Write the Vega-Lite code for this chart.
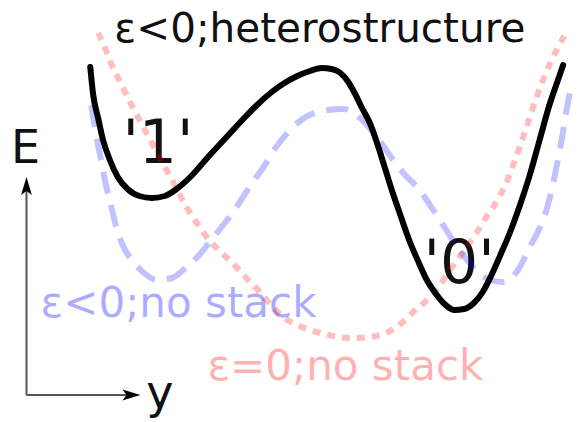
{
  "$schema": "https://vega.github.io/schema/vega-lite/v6.json",
  "width": 582,
  "height": 422,
  "padding": 0,
  "autosize": {"type": "fit", "contains": "padding"},
  "background": "white",
  "config": {"view": {"stroke": null}, "text": {"font": "DejaVu Sans"}},
  "datasets": {
    "curves": [
      {"series": "hetero", "y": 92, "E": 355}, {"series": "hetero", "y": 95, "E": 327}, {"series": "hetero", "y": 100, "E": 304},
      {"series": "hetero", "y": 105, "E": 282}, {"series": "hetero", "y": 112, "E": 262}, {"series": "hetero", "y": 120, "E": 245},
      {"series": "hetero", "y": 130, "E": 233}, {"series": "hetero", "y": 142, "E": 226}, {"series": "hetero", "y": 155, "E": 224},
      {"series": "hetero", "y": 168, "E": 226}, {"series": "hetero", "y": 180, "E": 233}, {"series": "hetero", "y": 195, "E": 246},
      {"series": "hetero", "y": 213, "E": 266}, {"series": "hetero", "y": 230, "E": 284}, {"series": "hetero", "y": 247, "E": 302},
      {"series": "hetero", "y": 262, "E": 317}, {"series": "hetero", "y": 277, "E": 330}, {"series": "hetero", "y": 290, "E": 339},
      {"series": "hetero", "y": 303, "E": 346}, {"series": "hetero", "y": 316, "E": 351}, {"series": "hetero", "y": 328, "E": 354},
      {"series": "hetero", "y": 338, "E": 353}, {"series": "hetero", "y": 347, "E": 349}, {"series": "hetero", "y": 355, "E": 340},
      {"series": "hetero", "y": 362, "E": 328}, {"series": "hetero", "y": 369, "E": 314},
      {"series": "hetero", "y": 377, "E": 299}, {"series": "hetero", "y": 385, "E": 277}, {"series": "hetero", "y": 393, "E": 252},
      {"series": "hetero", "y": 400, "E": 230}, {"series": "hetero", "y": 407, "E": 210}, {"series": "hetero", "y": 417, "E": 182},
      {"series": "hetero", "y": 427, "E": 159}, {"series": "hetero", "y": 435, "E": 142}, {"series": "hetero", "y": 443, "E": 130},
      {"series": "hetero", "y": 452, "E": 119}, {"series": "hetero", "y": 463, "E": 112}, {"series": "hetero", "y": 473, "E": 113},
      {"series": "hetero", "y": 483, "E": 119}, {"series": "hetero", "y": 492, "E": 130}, {"series": "hetero", "y": 500, "E": 145},
      {"series": "hetero", "y": 510, "E": 167}, {"series": "hetero", "y": 520, "E": 190}, {"series": "hetero", "y": 530, "E": 217},
      {"series": "hetero", "y": 540, "E": 247}, {"series": "hetero", "y": 550, "E": 282}, {"series": "hetero", "y": 560, "E": 317},
      {"series": "hetero", "y": 568, "E": 340}, {"series": "hetero", "y": 574, "E": 357},

      {"series": "sym", "y": 93, "E": 317}, {"series": "sym", "y": 98, "E": 287}, {"series": "sym", "y": 103, "E": 262},
      {"series": "sym", "y": 108, "E": 237}, {"series": "sym", "y": 113, "E": 217}, {"series": "sym", "y": 118, "E": 197},
      {"series": "sym", "y": 125, "E": 177}, {"series": "sym", "y": 137, "E": 159}, {"series": "sym", "y": 148, "E": 148},
      {"series": "sym", "y": 160, "E": 142}, {"series": "sym", "y": 175, "E": 144}, {"series": "sym", "y": 190, "E": 155},
      {"series": "sym", "y": 203, "E": 167}, {"series": "sym", "y": 213, "E": 179}, {"series": "sym", "y": 225, "E": 194},
      {"series": "sym", "y": 237, "E": 209}, {"series": "sym", "y": 247, "E": 224}, {"series": "sym", "y": 257, "E": 239},
      {"series": "sym", "y": 268, "E": 254}, {"series": "sym", "y": 280, "E": 273}, {"series": "sym", "y": 293, "E": 289},
      {"series": "sym", "y": 307, "E": 302}, {"series": "sym", "y": 328, "E": 311}, {"series": "sym", "y": 350, "E": 313},
      {"series": "sym", "y": 362, "E": 308}, {"series": "sym", "y": 375, "E": 296}, {"series": "sym", "y": 388, "E": 280},
      {"series": "sym", "y": 400, "E": 263}, {"series": "sym", "y": 412, "E": 248}, {"series": "sym", "y": 425, "E": 235},
      {"series": "sym", "y": 445, "E": 207}, {"series": "sym", "y": 467, "E": 174}, {"series": "sym", "y": 485, "E": 152},
      {"series": "sym", "y": 500, "E": 142}, {"series": "sym", "y": 513, "E": 140}, {"series": "sym", "y": 528, "E": 152},
      {"series": "sym", "y": 540, "E": 175}, {"series": "sym", "y": 550, "E": 194}, {"series": "sym", "y": 557, "E": 212},
      {"series": "sym", "y": 563, "E": 235}, {"series": "sym", "y": 568, "E": 259}, {"series": "sym", "y": 573, "E": 285},
      {"series": "sym", "y": 577, "E": 310}, {"series": "sym", "y": 581, "E": 330},

      {"series": "flat", "y": 100, "E": 389}, {"series": "flat", "y": 107, "E": 374}, {"series": "flat", "y": 113, "E": 359},
      {"series": "flat", "y": 123, "E": 339}, {"series": "flat", "y": 133, "E": 319}, {"series": "flat", "y": 145, "E": 297},
      {"series": "flat", "y": 157, "E": 275}, {"series": "flat", "y": 167, "E": 257}, {"series": "flat", "y": 177, "E": 239},
      {"series": "flat", "y": 190, "E": 215}, {"series": "flat", "y": 200, "E": 200}, {"series": "flat", "y": 213, "E": 182},
      {"series": "flat", "y": 225, "E": 170}, {"series": "flat", "y": 237, "E": 159}, {"series": "flat", "y": 250, "E": 145},
      {"series": "flat", "y": 263, "E": 132}, {"series": "flat", "y": 278, "E": 115}, {"series": "flat", "y": 293, "E": 102},
      {"series": "flat", "y": 310, "E": 94}, {"series": "flat", "y": 327, "E": 89}, {"series": "flat", "y": 345, "E": 85},
      {"series": "flat", "y": 360, "E": 84}, {"series": "flat", "y": 377, "E": 85}, {"series": "flat", "y": 393, "E": 89},
      {"series": "flat", "y": 407, "E": 97}, {"series": "flat", "y": 420, "E": 109}, {"series": "flat", "y": 433, "E": 120},
      {"series": "flat", "y": 447, "E": 135}, {"series": "flat", "y": 460, "E": 154}, {"series": "flat", "y": 472, "E": 170},
      {"series": "flat", "y": 483, "E": 185}, {"series": "flat", "y": 495, "E": 204}, {"series": "flat", "y": 507, "E": 222},
      {"series": "flat", "y": 515, "E": 237}, {"series": "flat", "y": 523, "E": 257}, {"series": "flat", "y": 535, "E": 290},
      {"series": "flat", "y": 547, "E": 325}, {"series": "flat", "y": 560, "E": 357}, {"series": "flat", "y": 575, "E": 386}
    ],
    "labels": [
      {"role": "title", "text": "ε<0;heterostructure", "y": 326, "E": 380},
      {"role": "well", "text": "'1'", "y": 161, "E": 259},
      {"role": "well", "text": "'0'", "y": 468, "E": 139},
      {"role": "axis", "text": "E", "y": 26, "E": 259},
      {"role": "axis", "text": "y", "y": 163, "E": 14},
      {"role": "sym", "text": "ε<0;no stack", "y": 182, "E": 105},
      {"role": "flat", "text": "ε=0;no stack", "y": 352, "E": 42}
    ],
    "axes": [
      {"y": 27, "E": 27, "y_end": 27, "E_end": 236},
      {"y": 27, "E": 27, "y_end": 134, "E_end": 27}
    ],
    "heads": [
      {"dir": "up", "y": 27, "E": 236},
      {"dir": "right", "y": 134, "E": 27}
    ]
  },
  "encoding": {
    "x": {"field": "y", "type": "quantitative", "scale": {"domain": [0, 582], "nice": false, "zero": false}, "axis": null},
    "y": {"field": "E", "type": "quantitative", "scale": {"domain": [0, 422], "nice": false, "zero": false}, "axis": null}
  },
  "layer": [
    {
      "data": {"name": "labels"},
      "transform": [{"filter": "datum.role === 'title'"}],
      "mark": {"type": "text", "fontSize": 40.5, "color": "#111111", "baseline": "alphabetic", "align": "center"},
      "encoding": {"text": {"field": "text"}}
    },
    {
      "data": {"name": "labels"},
      "transform": [{"filter": "datum.role === 'well'"}],
      "mark": {"type": "text", "fontSize": 60, "color": "#111111", "baseline": "alphabetic", "align": "center"},
      "encoding": {"text": {"field": "text"}}
    },
    {
      "data": {"name": "labels"},
      "transform": [{"filter": "datum.role === 'axis'"}],
      "mark": {"type": "text", "fontSize": 46, "color": "#111111", "baseline": "alphabetic", "align": "center"},
      "encoding": {"text": {"field": "text"}}
    },
    {
      "data": {"name": "labels"},
      "transform": [{"filter": "datum.role === 'sym'"}],
      "mark": {"type": "text", "fontSize": 42, "color": "#0000ff", "opacity": 0.32, "baseline": "alphabetic", "align": "center"},
      "encoding": {"text": {"field": "text"}}
    },
    {
      "data": {"name": "labels"},
      "transform": [{"filter": "datum.role === 'flat'"}],
      "mark": {"type": "text", "fontSize": 42, "color": "#ff0000", "opacity": 0.3, "baseline": "alphabetic", "align": "center"},
      "encoding": {"text": {"field": "text"}}
    },
    {
      "data": {"name": "axes"},
      "mark": {"type": "rule", "color": "#555555", "strokeWidth": 2},
      "encoding": {
        "x2": {"field": "y_end"},
        "y2": {"field": "E_end"}
      }
    },
    {
      "data": {"name": "heads"},
      "mark": {"type": "point", "filled": true, "color": "black", "opacity": 1, "size": 324},
      "encoding": {
        "shape": {
          "field": "dir",
          "type": "nominal",
          "scale": {"domain": ["up", "right"], "range": ["M0,-1L0.6,1L0,0.55L-0.6,1Z", "M1,0L-1,0.6L-0.55,0L-1,-0.6Z"]},
          "legend": null
        }
      }
    },
    {
      "data": {"name": "curves"},
      "transform": [{"filter": "datum.series === 'sym'"}],
      "mark": {"type": "line", "interpolate": "monotone", "color": "#0000ff", "strokeOpacity": 0.24, "strokeWidth": 6, "strokeDash": [22, 12], "strokeCap": "butt"},
      "encoding": {}
    },
    {
      "data": {"name": "curves"},
      "transform": [{"filter": "datum.series === 'flat'"}],
      "mark": {"type": "line", "interpolate": "monotone", "color": "#ff0000", "strokeOpacity": 0.26, "strokeWidth": 6, "strokeDash": [8, 7], "strokeCap": "butt"},
      "encoding": {}
    },
    {
      "data": {"name": "curves"},
      "transform": [{"filter": "datum.series === 'hetero'"}],
      "mark": {"type": "line", "interpolate": "monotone", "color": "black", "strokeWidth": 6, "strokeCap": "round"},
      "encoding": {}
    }
  ]
}
